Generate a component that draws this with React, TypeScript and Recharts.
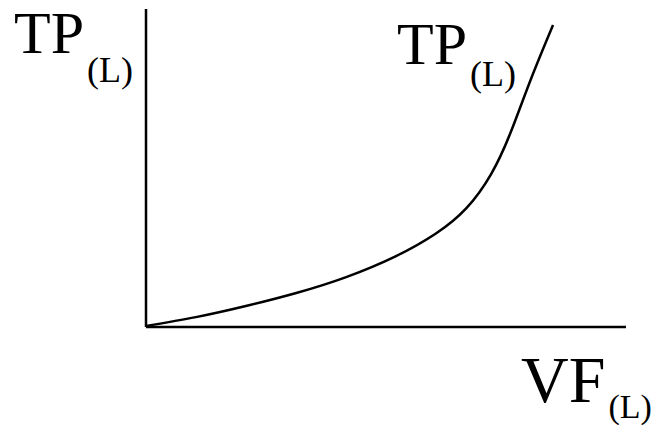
import { LineChart, Line, XAxis, YAxis, ReferenceDot, Label } from "recharts";

// total product of labour against variable factor (labour)
const labour = [0, 10.4, 20.8, 31.3, 41.7, 52.1, 60.4, 66.7, 71.9, 76.0, 80.2, 84.8];
const totalProduct = [0.3, 3.1, 6.6, 10.7, 15.7, 22.3, 29.4, 37.3, 48.1, 61.3, 78.0, 95.0];

const data = labour.map((l, i) => ({ l, tp: totalProduct[i] }));

const FONT = "'Liberation Serif', 'DejaVu Serif', serif";

type SubProps = { x: number; y: number; main: string; sub: string; size?: number; subSize?: number; drop?: number };

const SubLabel = ({ x, y, main, sub, size = 60, subSize = 36, drop = 26 }: SubProps) => (
  <text x={x} y={y} fill="#000" style={{ fontFamily: FONT, fontSize: size }}>
    {main}
    <tspan style={{ fontSize: subSize }} dx={3} dy={drop}>
      {sub}
    </tspan>
  </text>
);

export default function App() {
  return (
    <div style={{ position: "absolute", left: 0, top: 0, background: "#fff" }}>
      <LineChart
        width={651}
        height={425}
        data={data}
        margin={{ top: 9, right: 25, bottom: 97, left: 145 }}
      >
        <XAxis
          dataKey="l"
          type="number"
          domain={[0, 100]}
          height={1}
          tick={false}
          tickLine={false}
          axisLine={{ stroke: "#000", strokeWidth: 2.5 }}
        >
          <Label
            content={() => (
              <SubLabel x={521} y={402} main="VF" sub="(L)" size={66} subSize={34} drop={16} />
            )}
          />
        </XAxis>
        <YAxis
          type="number"
          domain={[0, 100]}
          width={1}
          tick={false}
          tickLine={false}
          axisLine={{ stroke: "#000", strokeWidth: 2.5 }}
        >
          <Label content={() => <SubLabel x={14} y={53} main="TP" sub="(L)" drop={29} />} />
        </YAxis>
        <Line
          dataKey="tp"
          type="natural"
          stroke="#000"
          strokeWidth={2.5}
          dot={false}
          isAnimationActive={false}
        />
        <ReferenceDot
          x={52.3}
          y={82.8}
          r={0}
          fill="none"
          stroke="none"
          label={({ viewBox }: any) => <SubLabel x={viewBox.x} y={viewBox.y} main="TP" sub="(L)" drop={22} />}
        />
      </LineChart>
    </div>
  );
}
